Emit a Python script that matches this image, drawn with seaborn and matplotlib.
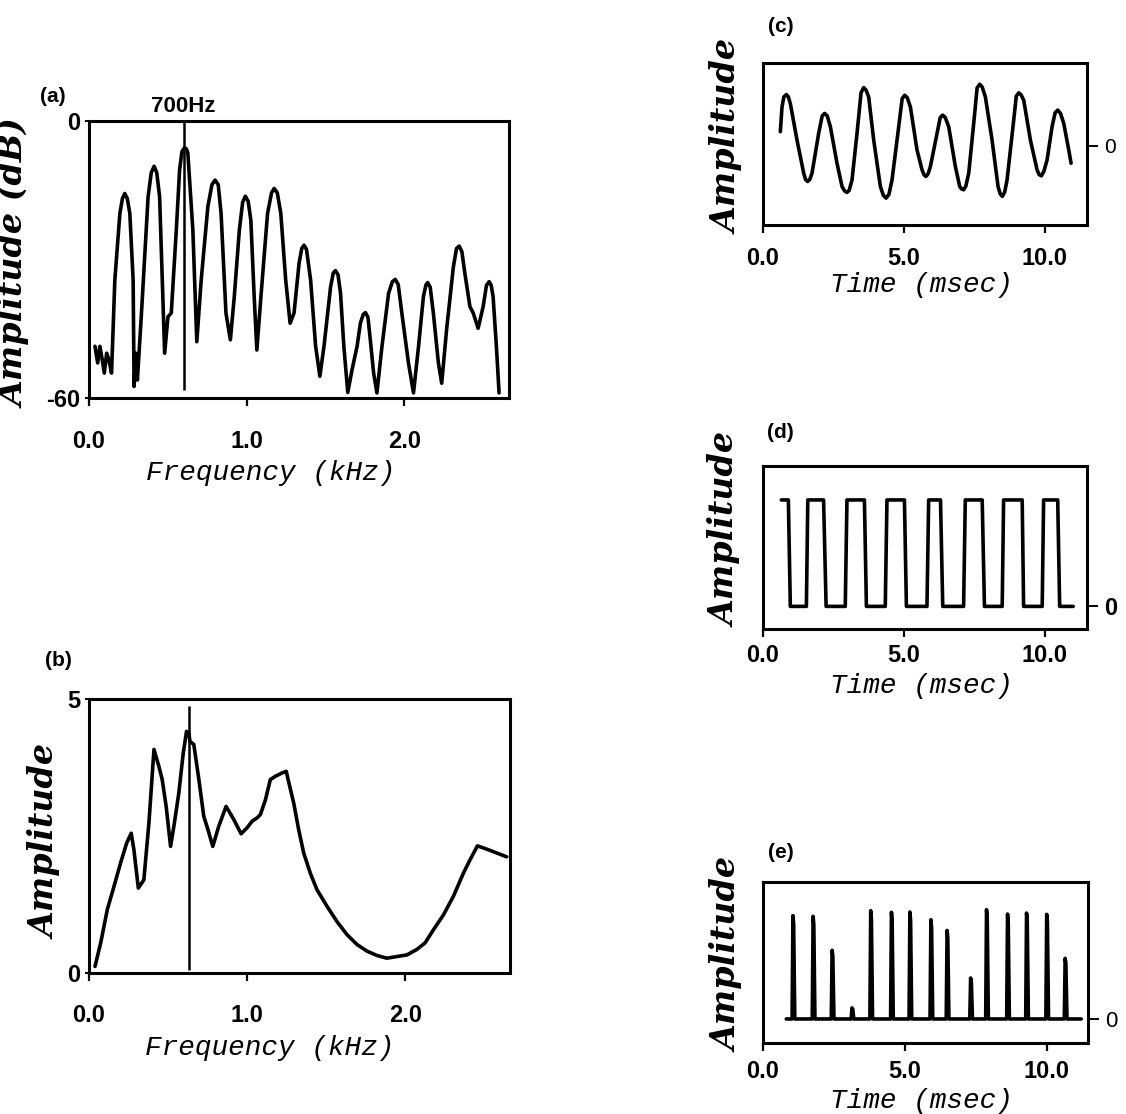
import numpy as np
import pandas as pd
import matplotlib
matplotlib.use("Agg")
import matplotlib.pyplot as plt
from matplotlib import font_manager as fm
import seaborn as sns

# (a) spectrum, dB
a_khz = [0.038, 0.055, 0.069, 0.084, 0.097, 0.112, 0.126, 0.143, 0.164, 0.196, 0.212, 0.227,
         0.243, 0.259, 0.280, 0.286, 0.297, 0.307, 0.333, 0.375, 0.395, 0.413, 0.430, 0.448,
         0.480, 0.501, 0.522, 0.554, 0.575, 0.590, 0.606, 0.617, 0.627, 0.659, 0.684, 0.712,
         0.754, 0.780, 0.800, 0.820, 0.838, 0.869, 0.897, 0.922, 0.954, 0.975, 0.992, 1.010,
         1.027, 1.048, 1.065, 1.091, 1.133, 1.158, 1.175, 1.195, 1.217, 1.248, 1.276, 1.301,
         1.333, 1.350, 1.364, 1.380, 1.406, 1.438, 1.465, 1.491, 1.533, 1.550, 1.564, 1.580,
         1.596, 1.617, 1.642, 1.669, 1.701, 1.722, 1.740, 1.754, 1.770, 1.785, 1.806, 1.827,
         1.859, 1.901, 1.925, 1.943, 1.962, 1.985, 2.027, 2.059, 2.091, 2.122, 2.138, 2.149,
         2.165, 2.185, 2.217, 2.238, 2.269, 2.312, 2.332, 2.349, 2.366, 2.385, 2.417, 2.438,
         2.469, 2.501, 2.522, 2.539, 2.552, 2.564, 2.585, 2.602]
a_db = [-48.8, -52.4, -48.8, -51.7, -54.6, -50.3, -51.7, -54.6, -34.4, -20.0, -16.8, -15.7,
        -16.8, -20.0, -34.4, -57.5, -50.3, -56.1, -41.6, -16.4, -11.2, -9.8, -11.2, -16.4,
        -50.3, -42.4, -41.6, -23.6, -10.5, -6.6, -5.8, -6.0, -6.9, -23.6, -47.8, -34.4,
        -18.6, -13.8, -12.8, -13.8, -20.0, -41.6, -47.4, -38.0, -23.6, -17.6, -16.3, -17.4,
        -21.5, -38.0, -49.6, -38.0, -20.0, -15.6, -14.6, -15.6, -20.0, -34.4, -43.8, -41.6,
        -30.8, -27.6, -26.9, -27.8, -34.4, -48.8, -55.3, -48.8, -35.9, -32.9, -32.4, -33.3,
        -37.3, -48.8, -58.8, -53.9, -48.8, -43.8, -41.9, -41.5, -42.5, -47.4, -54.6, -58.9,
        -48.8, -37.3, -34.8, -34.3, -35.4, -41.6, -52.4, -58.9, -48.8, -38.0, -35.5, -35.0,
        -36.0, -41.6, -52.4, -56.8, -45.2, -31.6, -27.6, -27.1, -28.3, -33.0, -40.2, -41.6,
        -44.9, -40.2, -35.6, -34.8, -35.6, -38.0, -48.8, -58.9]
a_mark_khz = 0.60
a_mark_db = [-58.2, 0.0]
a_mark_text = "700Hz"

# (b) spectrum, linear amplitude
b_khz = [0.038, 0.074, 0.116, 0.158, 0.200, 0.238, 0.267, 0.284, 0.312, 0.347, 0.379, 0.411,
         0.442, 0.463, 0.488, 0.516, 0.537, 0.568, 0.596, 0.617, 0.632, 0.638, 0.663, 0.695,
         0.726, 0.752, 0.783, 0.821, 0.867, 0.916, 0.962, 1.000, 1.032, 1.063, 1.084, 1.116,
         1.147, 1.179, 1.221, 1.248, 1.257, 1.295, 1.326, 1.358, 1.400, 1.442, 1.505, 1.568,
         1.632, 1.695, 1.758, 1.821, 1.884, 1.947, 2.011, 2.074, 2.126, 2.179, 2.242, 2.305,
         2.368, 2.411, 2.457, 2.516, 2.579, 2.642]
b_amp = [0.12, 0.55, 1.16, 1.58, 2.01, 2.37, 2.55, 2.25, 1.55, 1.70, 2.74, 4.08,
         3.77, 3.53, 3.04, 2.31, 2.68, 3.28, 4.01, 4.41, 4.38, 4.23, 4.17, 3.53,
         2.86, 2.62, 2.31, 2.68, 3.04, 2.80, 2.54, 2.65, 2.77, 2.83, 2.89, 3.16,
         3.53, 3.59, 3.65, 3.68, 3.56, 3.10, 2.62, 2.19, 1.82, 1.52, 1.22, 0.94,
         0.70, 0.52, 0.40, 0.32, 0.27, 0.30, 0.33, 0.43, 0.55, 0.79, 1.06, 1.40,
         1.82, 2.07, 2.32, 2.26, 2.19, 2.12]
b_mark_khz = 0.632
b_mark_amp = [0.06, 4.87]

# (c) waveform
c_ms = [0.615, 0.675, 0.74, 0.828, 0.90, 0.970, 1.207, 1.444, 1.51, 1.586, 1.66, 1.740,
        1.976, 2.10, 2.189, 2.28, 2.391, 2.627, 2.805, 2.90, 2.982, 3.06, 3.160, 3.337,
        3.48, 3.574, 3.66, 3.751, 3.929, 4.166, 4.27, 4.367, 4.47, 4.580, 4.817, 4.94,
        5.030, 5.12, 5.231, 5.467, 5.645, 5.72, 5.787, 5.86, 5.941, 6.178, 6.29, 6.379,
        6.47, 6.592, 6.828, 6.982, 7.05, 7.124, 7.20, 7.302, 7.479, 7.60, 7.692, 7.78,
        7.893, 8.130, 8.343, 8.42, 8.497, 8.58, 8.663, 8.899, 8.99, 9.077, 9.16, 9.254,
        9.491, 9.728, 9.80, 9.882, 9.97, 10.083, 10.260, 10.37, 10.462, 10.56, 10.675, 10.852,
        10.935]
c_amp = [0.169, 0.470, 0.59, 0.618, 0.59, 0.510, 0.068, -0.333, -0.41, -0.434, -0.41, -0.333,
         0.149, 0.36, 0.390, 0.36, 0.229, -0.213, -0.494, -0.55, -0.566, -0.54, -0.414, 0.149,
         0.64, 0.703, 0.67, 0.590, 0.068, -0.494, -0.60, -0.635, -0.59, -0.414, 0.229, 0.57,
         0.610, 0.58, 0.470, -0.052, -0.293, -0.355, -0.373, -0.34, -0.253, 0.149, 0.34, 0.369,
         0.34, 0.229, -0.253, -0.494, -0.525, -0.534, -0.49, -0.333, 0.269, 0.70, 0.743, 0.71,
         0.590, 0.068, -0.494, -0.585, -0.614, -0.56, -0.414, 0.309, 0.60, 0.639, 0.615, 0.550,
         0.068, -0.293, -0.35, -0.365, -0.31, -0.173, 0.229, 0.40, 0.430, 0.39, 0.269, -0.052,
         -0.213]

# (d) square wave
d_ms = [0.65, 0.90, 0.97, 1.54, 1.59, 2.15, 2.24, 2.92, 2.98, 3.60, 3.67, 4.34, 4.40, 5.02,
        5.09, 5.82, 5.88, 6.30, 6.38, 7.12, 7.18, 7.78, 7.86, 8.49, 8.54, 9.20, 9.25, 9.91,
        9.96, 10.46, 10.53, 11.01]
d_amp = [1, 1, 0, 0, 1, 1, 0, 0, 1, 1, 0, 0, 1, 1,
         0, 0, 1, 1, 0, 0, 1, 1, 0, 0, 1, 1, 0, 0,
         1, 1, 0, 0]

# (e) pulse train
e_spike_ms = [1.06, 1.77, 2.44, 3.14, 3.80, 4.53, 5.18, 5.92, 6.49, 7.32, 7.88, 8.62, 9.29, 10.00, 10.65]
e_spike_amp = [0.954, 0.948, 0.634, 0.102, 1.000, 0.985, 0.988, 0.917, 0.818, 0.378, 1.009, 0.969, 0.978, 0.966, 0.560]
e_start_ms = 0.82
e_end_ms = 11.21

W, H = 1126, 1114
names = {f.name for f in fm.fontManager.ttflist}
NARROW = "Liberation Sans Narrow" if "Liberation Sans Narrow" in names else "Liberation Sans"

sns.set_style("white")
plt.rcParams["font.family"] = ["DejaVu Sans"]
plt.rcParams.update({"text.color": "black", "axes.labelcolor": "black",
                     "xtick.color": "black", "ytick.color": "black"})

TICK_FONT = dict(family=NARROW, weight="bold", size=17)
XLAB_FONT = dict(family="Liberation Mono", style="italic", size=20)
YLAB_FONT = dict(family="DejaVu Serif", style="italic", weight="bold", size=24)
LW = 2.6


def px_axes(fig, x0, y0, x1, y1):
    return fig.add_axes([x0 / W, 1 - y1 / H, (x1 - x0) / W, (y1 - y0) / H])


def style(ax, xticks, xlabels, xpad, ylab_xy, xlab_xy, xlabel, ylabel="Amplitude", right=False):
    for sp in ax.spines.values():
        sp.set_visible(True)
        sp.set_color("black")
        sp.set_linewidth(2.2)
    ax.set_xticks(xticks)
    ax.set_xticklabels(xlabels, fontdict=TICK_FONT)
    ax.tick_params(axis="x", direction="out", length=6, width=1.6, pad=xpad, bottom=True)
    if right:
        ax.yaxis.tick_right()
        ax.tick_params(axis="y", direction="out", length=8, width=1.4, pad=4, right=True, left=False)
    else:
        ax.tick_params(axis="y", direction="out", length=3, width=1.4, pad=3, left=True)
    ax.set_xlabel(xlabel, fontdict=XLAB_FONT)
    ax.set_ylabel(ylabel, fontdict=YLAB_FONT)
    ax.yaxis.set_label_position("left")
    ax.xaxis.set_label_coords(*xlab_xy)
    ax.yaxis.set_label_coords(*ylab_xy)


def trace(ax, x, y):
    sns.lineplot(x=x, y=y, sort=False, estimator=None, color="black", lw=LW, ax=ax)
    ax.lines[-1].set_solid_joinstyle("round")
    ax.lines[-1].set_solid_capstyle("round")


fig = plt.figure(figsize=(W / 100, H / 100), dpi=100)

# (a)
ax = px_axes(fig, 89, 121, 509, 398)
trace(ax, a_khz, a_db)
ax.vlines(a_mark_khz, a_mark_db[0], a_mark_db[1], color="black", lw=1.8)
ax.annotate(a_mark_text, xy=(a_mark_khz, 0), xytext=(0, 3), textcoords="offset points",
            ha="center", va="bottom", fontsize=16, fontweight="bold", family=NARROW)
ax.set_xlim(0, 2.665)
ax.set_ylim(-60, 0)
ax.set_yticks([-60, 0])
ax.set_yticklabels(["-60", "0"], fontdict=TICK_FONT)
style(ax, [0, 1, 2], ["0.0", "1.0", "2.0"], 17, (-0.136, 0.487), (0.433, -0.224),
      "Frequency (kHz)", ylabel="Amplitude (dB)")

# (b)
ax = px_axes(fig, 89, 699, 510, 973)
trace(ax, b_khz, b_amp)
ax.vlines(b_mark_khz, b_mark_amp[0], b_mark_amp[1], color="black", lw=1.8)
ax.set_xlim(0, 2.663)
ax.set_ylim(0, 5)
ax.set_yticks([0, 5])
ax.set_yticklabels(["0", "5"], fontdict=TICK_FONT)
style(ax, [0, 1, 2], ["0.0", "1.0", "2.0"], 16, (-0.062, 0.478), (0.43, -0.226),
      "Frequency (kHz)")

# (c)
ax = px_axes(fig, 763, 63, 1087, 225)
trace(ax, c_ms, c_amp)
ax.set_xlim(0, 11.5)
ax.set_ylim(-0.96, 1.0)
ax.set_yticks([0])
ax.set_yticklabels(["0"], fontdict=dict(family=NARROW, size=15))
style(ax, [0, 5, 10], ["0.0", "5.0", "10.0"], 10, (-0.056, 0.543), (0.488, -0.29),
      "Time (msec)", right=True)

# (d)
ax = px_axes(fig, 763, 466, 1087, 629)
trace(ax, d_ms, d_amp)
ax.set_xlim(0, 11.5)
ax.set_ylim(-0.2125, 1.319)
ax.set_yticks([0])
ax.set_yticklabels(["0"], fontdict=TICK_FONT)
style(ax, [0, 5, 10], ["0.0", "5.0", "10.0"], 5, (-0.062, 0.607), (0.49, -0.27),
      "Time (msec)", right=True)

# (e)
e_t = [e_start_ms]
e_a = [0.0]
for t, a in zip(e_spike_ms, e_spike_amp):
    e_t += [t - 0.035, t - 0.005, t + 0.02, t + 0.06]
    e_a += [0.0, a, a * 0.92, 0.0]
e_t.append(e_end_ms)
e_a.append(0.0)
ax = px_axes(fig, 763, 882, 1088, 1043)
trace(ax, e_t, e_a)
ax.set_xlim(0, 11.45)
ax.set_ylim(-0.222, 1.265)
ax.set_yticks([0])
ax.set_yticklabels(["0"], fontdict=dict(family=NARROW, size=16))
style(ax, [0, 5, 10], ["0.0", "5.0", "10.0"], 6, (-0.056, 0.547), (0.486, -0.28),
      "Time (msec)", right=True)

# panel letters
for lab, x, y in [("(a)", 40, 97), ("(b)", 45, 660), ("(c)", 768, 27), ("(d)", 767, 432), ("(e)", 768, 852)]:
    fig.text(x / W, 1 - y / H, lab, fontsize=15, fontweight="bold", family=NARROW,
             ha="left", va="center")

fig.savefig("out.png", dpi=100)
